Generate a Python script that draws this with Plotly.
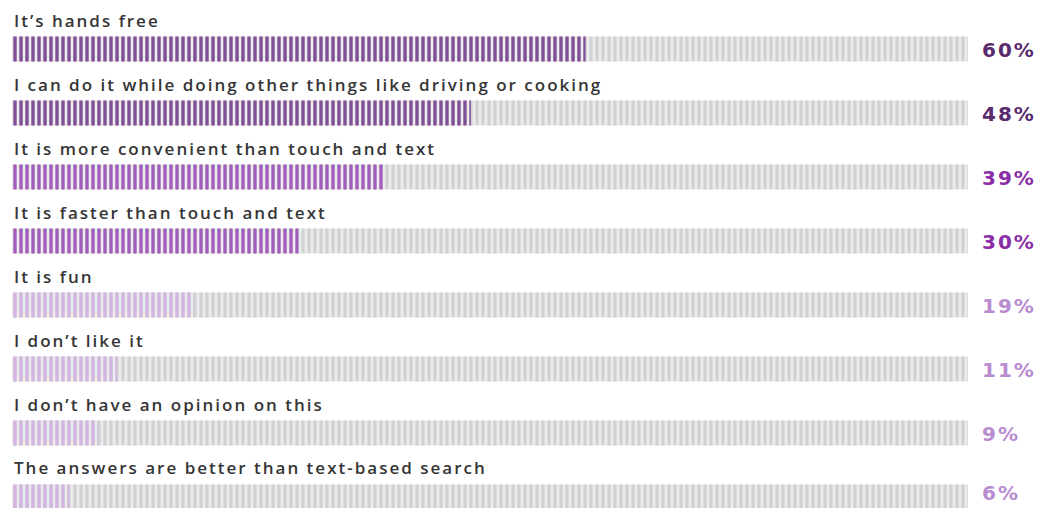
import plotly.graph_objects as go

labels = [
    "It\u2019s hands free",
    "I can do it while doing other things like driving or cooking",
    "It is more convenient than touch and text",
    "It is faster than touch and text",
    "It is fun",
    "I don\u2019t like it",
    "I don\u2019t have an opinion on this",
    "The answers are better than text-based search",
]
values = [60, 48, 39, 30, 19, 11, 9, 6]
track_total = [100] * len(values)

# style tiers
fg_cols = ["#4c1864", "#4c1864", "#7d1f9c", "#7d1f9c", "#b07fcb", "#b07fcb", "#b07fcb", "#b07fcb"]
bg_cols = ["#7f4f97", "#7f4f97", "#a25cbc", "#a25cbc", "#d2b6e1", "#d2b6e1", "#d2b6e1", "#d2b6e1"]
txt_cols = ["#5a2a6e", "#5a2a6e", "#8a2ea6", "#8a2ea6", "#b98bd0", "#b98bd0", "#b98bd0", "#b98bd0"]

fig = go.Figure()
fig.add_trace(go.Bar(
    x=track_total, y=labels, orientation="h", width=0.39,
    marker=dict(color="#ececed", line=dict(width=0),
                pattern=dict(shape="|", size=6, solidity=0.55,
                             fgcolor="#d0d2d3", bgcolor="#ececed", fillmode="replace")),
    hoverinfo="skip", showlegend=False,
))
fig.add_trace(go.Bar(
    x=values, y=labels, orientation="h", width=0.39,
    marker=dict(color=bg_cols, line=dict(width=0),
                pattern=dict(shape="|", size=6, solidity=0.55,
                             fgcolor=fg_cols, bgcolor=bg_cols, fillmode="replace")),
    hoverinfo="skip", showlegend=False,
))

n = len(labels)
for i, (lab, v, c) in enumerate(zip(labels, values, txt_cols)):
    fig.add_annotation(x=0, y=lab, xref="x", yref="y",
                       text=f'<span style="letter-spacing:2px">{lab}</span>', showarrow=False,
                       xanchor="left", yanchor="middle", yshift=29,
                       font=dict(family="Open Sans", size=17, color="#353535", weight=600))
    fig.add_annotation(x=100, y=lab, xref="x", yref="y",
                       text=f'<span style="letter-spacing:2px">{v}%</span>', showarrow=False,
                       xanchor="left", yanchor="middle", xshift=12,
                       yshift=(4 if i == n - 1 else -1),
                       font=dict(family="DejaVu Sans", size=20, color=c, weight="bold"))

fig.update_layout(
    width=1045, height=508,
    margin=dict(l=12, r=77, t=0, b=0),
    paper_bgcolor="white", plot_bgcolor="white",
    barmode="overlay",
    xaxis=dict(range=[0, 100], visible=False, fixedrange=True),
    yaxis=dict(type="category", range=[7.172, -0.766], visible=False, fixedrange=True),
)

fig.write_html("out.html")
